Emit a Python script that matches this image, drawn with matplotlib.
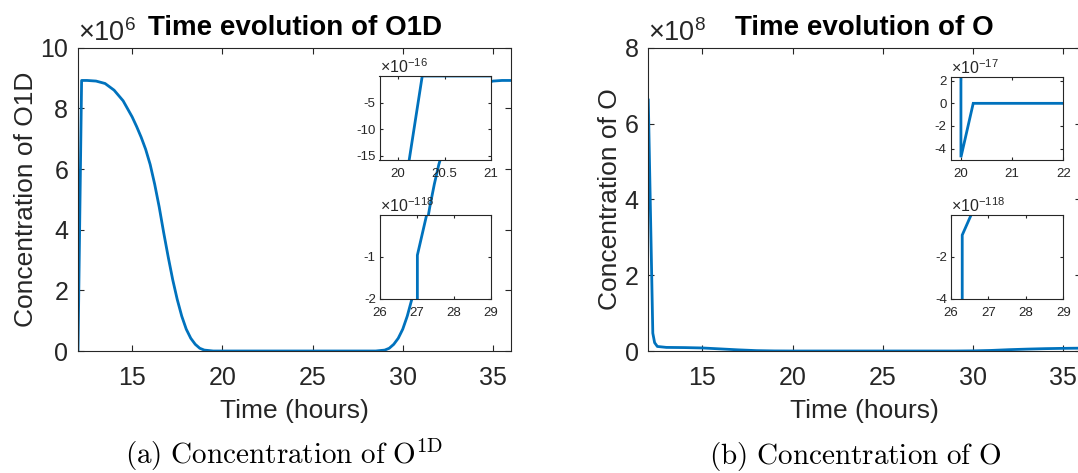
import matplotlib
matplotlib.use("Agg")
import matplotlib.pyplot as plt
from matplotlib.ticker import FormatStrFormatter

plt.rcParams['font.family'] = ['Liberation Sans', 'DejaVu Sans']
plt.rcParams['mathtext.fontset'] = 'custom'
plt.rcParams['mathtext.rm'] = 'Liberation Sans'
plt.rcParams['mathtext.it'] = 'Liberation Sans:italic'
plt.rcParams['mathtext.bf'] = 'Liberation Sans:bold'
plt.rcParams['axes.unicode_minus'] = False

# ---------------- data ----------------
# O1D concentration (units of 1e6)
time_o1d = [12.0, 12.2, 12.5, 13.0, 13.5, 14.0, 14.5, 15.0, 15.25, 15.5, 15.75, 16.0,
            16.25, 16.5, 16.75, 17.0, 17.25, 17.5, 17.75, 18.0, 18.25, 18.5, 18.75,
            19.0, 19.5, 24.0, 28.5, 29.0, 29.25, 29.5, 29.75, 30.0, 30.25, 30.5,
            30.75, 31.0, 31.25, 31.5, 31.75, 32.0, 32.25, 32.5, 32.75, 33.0, 33.5,
            34.0, 34.5, 35.0, 35.5, 36.0]
o1d = [0.0, 8.92, 8.92, 8.9, 8.82, 8.6, 8.25, 7.72, 7.4, 7.05, 6.65, 6.15,
       5.5, 4.75, 3.9, 3.1, 2.35, 1.7, 1.15, 0.72, 0.42, 0.22, 0.09,
       0.03, 0.0, 0.0, 0.0, 0.03, 0.09, 0.22, 0.42, 0.72, 1.15, 1.7,
       2.35, 3.1, 3.9, 4.75, 5.5, 6.15, 6.65, 7.05, 7.4, 7.72, 8.25,
       8.6, 8.82, 8.9, 8.92, 8.92]
o1d_exp = 6

# O concentration (units of 1e8)
time_o = [12.0, 12.25, 12.35, 12.5, 13.0, 14.0, 15.0, 16.0, 17.0, 18.0, 19.0, 20.0,
          25.0, 29.0, 30.0, 31.0, 32.0, 33.0, 34.0, 35.0, 36.0]
o_conc = [6.62, 0.47, 0.22, 0.12, 0.095, 0.09, 0.08, 0.055, 0.03, 0.01, 0.002, 0.0,
          0.0, 0.0, 0.004, 0.015, 0.035, 0.05, 0.062, 0.07, 0.075]
o_exp = 8

# zoom insets (mantissa values with exponent)
ins_o1d_a_t = [20.1, 20.26, 21.0]
ins_o1d_a_v = [-18.0, 0.0, 0.0]
ins_o1d_a_exp = -16
ins_o1d_b_t = [27.01, 27.01, 27.26]
ins_o1d_b_v = [-2.5, -0.96, 0.0]
ins_o1d_b_exp = -118
ins_o_a_t = [20.0, 20.0, 20.24, 22.0]
ins_o_a_v = [5.0, -4.76, 0.0, 0.0]
ins_o_a_exp = -17
ins_o_b_t = [26.3, 26.3, 26.54]
ins_o_b_v = [-5.0, -0.97, 0.0]
ins_o_b_exp = -118

main_xticks = [15, 20, 25, 30, 35]

W, H = 1078, 473
fig = plt.figure(figsize=(W / 100, H / 100), dpi=100)
BLUE = '#0072BD'
GREY = '#262626'


def px_rect(x0, y0, x1, y1):
    return [x0 / W, (H - y1) / H, (x1 - x0) / W, (y1 - y0) / H]


def style(ax, fs, length, padx, pady, lw=0.8):
    ax.tick_params(direction='in', top=True, right=True, length=length, width=lw,
                   colors=GREY, labelsize=fs)
    ax.tick_params(axis='x', pad=padx)
    ax.tick_params(axis='y', pad=pady)
    for s in ax.spines.values():
        s.set_color(GREY)
        s.set_linewidth(lw)


def main_axes(rect, t, v, exp, ymax, title, ylabel, ylab_x):
    ax = fig.add_axes(px_rect(*rect))
    ax.plot(t, v, color=BLUE, lw=2)
    ax.set_xlim(12, 36)
    ax.set_ylim(0, ymax)
    ax.set_xticks(main_xticks)
    ax.set_yticks(list(range(0, ymax + 1, 2)))
    style(ax, 18, 4, 10.5, 7)
    ax.set_title(title, fontsize=20, fontweight='bold', pad=9, color='black')
    ax.set_xlabel('Time (hours)', fontsize=19, color=GREY)
    ax.xaxis.set_label_coords(0.5, -0.158)
    ax.set_ylabel(ylabel, fontsize=19, color=GREY)
    ax.yaxis.set_label_coords(ylab_x, 0.5)
    ax.text(0.0, 1.022, r'$\times10^{%d}$' % exp, transform=ax.transAxes,
            fontsize=19.5, color=GREY, ha='left', va='baseline')
    return ax


def inset(rect, t, v, xlim, ylim, xticks, xticklabels, yticks, exp):
    ax = fig.add_axes(px_rect(*rect))
    ax.set_facecolor('white')
    ax.plot(t, v, color=BLUE, lw=2, solid_joinstyle='miter')
    ax.set_xlim(*xlim)
    ax.set_ylim(*ylim)
    ax.set_xticks(xticks)
    ax.set_xticklabels(xticklabels)
    ax.set_yticks(yticks)
    ax.yaxis.set_major_formatter(FormatStrFormatter('%g'))
    style(ax, 9.5, 2.5, 6, 3)
    ax.text(0.0, 1.035, r'$\times10^{%d}$' % exp, transform=ax.transAxes,
            fontsize=11.5, color=GREY, ha='left', va='baseline')
    return ax


axL = main_axes((78, 47.7, 511, 351), time_o1d, o1d, o1d_exp, 10,
                'Time evolution of O1D', 'Concentration of O1D', -0.092)
axR = main_axes((648.3, 47.7, 1081.3, 351), time_o, o_conc, o_exp, 8,
                'Time evolution of O', 'Concentration of O', -0.061)

inset((379.5, 76, 491, 160), ins_o1d_a_t, ins_o1d_a_v, (19.8, 21.0), (-15.8, 0.0),
      [20, 20.5, 21], ['20', '20.5', '21'], [-15, -10, -5], ins_o1d_a_exp)
inset((380, 215, 491, 298.7), ins_o1d_b_t, ins_o1d_b_v, (26, 29), (-2, 0),
      [26, 27, 28, 29], ['26', '27', '28', '29'], [-2, -1], ins_o1d_b_exp)
inset((950.7, 76.7, 1063.3, 160), ins_o_a_t, ins_o_a_v, (19.8, 22.0), (-5.0, 2.35),
      [20, 21, 22], ['20', '21', '22'], [-4, -2, 0, 2], ins_o_a_exp)
inset((951, 214.7, 1063.3, 298.7), ins_o_b_t, ins_o_b_v, (26, 29), (-4, 0),
      [26, 27, 28, 29], ['26', '27', '28', '29'], [-4, -2], ins_o_b_exp)

fig.text(284 / W, 1 - 464 / H, r'$\mathrm{(a)\ Concentration\ of\ O^{1D}}$',
         ha='center', va='baseline', fontsize=21, math_fontfamily='cm', color='black')
fig.text(855 / W, 1 - 464 / H, r'$\mathrm{(b)\ Concentration\ of\ O}$',
         ha='center', va='baseline', fontsize=21, math_fontfamily='cm', color='black')

fig.savefig('out.png', dpi=100, facecolor='white')
